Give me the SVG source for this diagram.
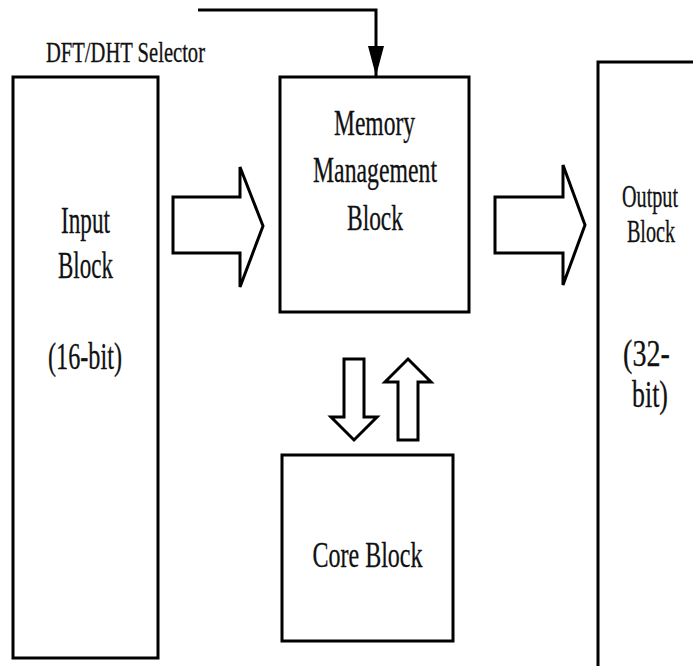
<svg xmlns="http://www.w3.org/2000/svg" width="693" height="666" viewBox="0 0 693 666">
<style>
.box{fill:#fff;stroke:#000;stroke-width:3}
.barrow{fill:#fff;stroke:#000;stroke-width:3;stroke-linejoin:miter}
.t{font-family:"Liberation Serif","DejaVu Serif","Times New Roman",serif;fill:#111;stroke:#111;stroke-width:0.3;text-anchor:middle}
.line{fill:none;stroke:#000;stroke-width:3}
</style>
<defs>
<marker id="ah" markerWidth="30" markerHeight="16" refX="30" refY="8" orient="auto" markerUnits="userSpaceOnUse" viewBox="0 0 30 16">
<path d="M0,0 L30,8 L0,16 Z" fill="#000"/>
</marker>
</defs>
<rect width="693" height="666" fill="#fff"/>
<g id="selector-label">
<text class="t" x="125.5" y="62" font-size="29" textLength="159" lengthAdjust="spacingAndGlyphs">DFT/DHT Selector</text>
</g>
<g id="input-block">
<rect class="box" x="13" y="77" width="145" height="581"/>
<text class="t" x="85.5" y="233" font-size="38" textLength="49" lengthAdjust="spacingAndGlyphs">Input</text>
<text class="t" x="85.5" y="278" font-size="38" textLength="55" lengthAdjust="spacingAndGlyphs">Block</text>
<text class="t" x="85" y="369" font-size="38" textLength="74" lengthAdjust="spacingAndGlyphs">(16-bit)</text>
</g>
<g id="memory-block">
<rect class="box" x="280" y="77" width="189" height="235"/>
<text class="t" x="374.5" y="135" font-size="35" textLength="81" lengthAdjust="spacingAndGlyphs">Memory</text>
<text class="t" x="375" y="182" font-size="35" textLength="124" lengthAdjust="spacingAndGlyphs">Management</text>
<text class="t" x="375" y="230" font-size="35" textLength="56" lengthAdjust="spacingAndGlyphs">Block</text>
</g>
<g id="core-block">
<rect class="box" x="282" y="455" width="171" height="186"/>
<text class="t" x="367.5" y="567" font-size="36" textLength="110" lengthAdjust="spacingAndGlyphs">Core Block</text>
</g>
<g id="output-block">
<rect class="box" x="598" y="62" width="110" height="620"/>
<text class="t" transform="translate(650,207) scale(0.63,1)" font-size="32">Output</text>
<text class="t" transform="translate(651,242) scale(0.63,1)" font-size="32">Block</text>
<text class="t" transform="translate(646.5,366) scale(0.74,1)" font-size="38">(32-</text>
<text class="t" transform="translate(650,407) scale(0.68,1)" font-size="38">bit)</text>
</g>
<g id="connectors">
<path class="line" d="M198,10 H376 V76" marker-end="url(#ah)"/>
<polygon class="barrow" points="173,197 240,197 240,167 263,226 240,287 240,253 173,253"/>
<polygon class="barrow" points="495,197 563,197 563,165 585,225 563,285 563,253 495,253"/>
<polygon class="barrow" points="344,359 364,359 364,417 377,417 354,440 331,417 344,417"/>
<polygon class="barrow" points="408,359 431,382 418,382 418,440 398,440 398,382 385,382"/>
</g>
</svg>
